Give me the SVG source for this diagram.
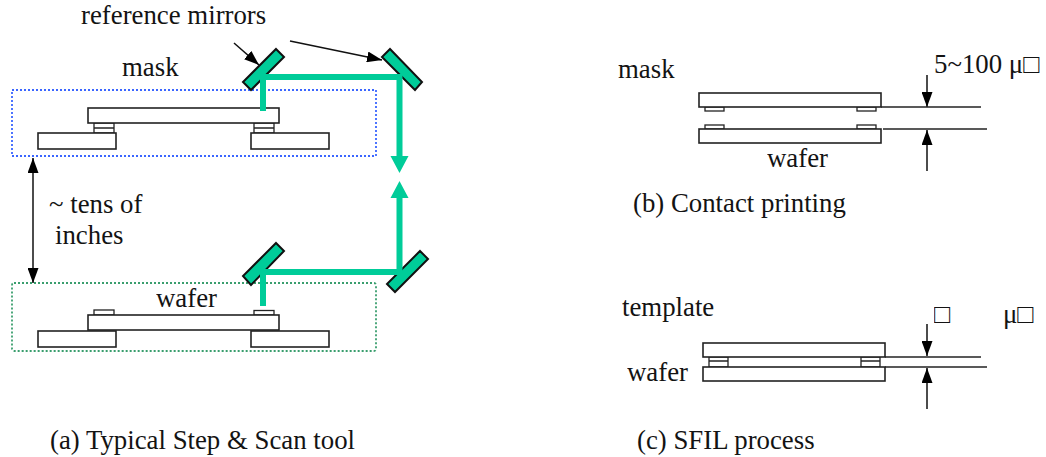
<svg xmlns="http://www.w3.org/2000/svg" width="1046" height="457" viewBox="0 0 1046 457">
<defs>
<marker id="ah" markerUnits="userSpaceOnUse" markerWidth="15" markerHeight="11" refX="15" refY="5.5" orient="auto" viewBox="0 0 15 11"><path d="M0 0L15 5.5L0 11Z" fill="#000"/></marker>
<marker id="ahs" markerUnits="userSpaceOnUse" markerWidth="15" markerHeight="11" refX="0" refY="5.5" orient="auto" viewBox="0 0 15 11"><path d="M15 0L0 5.5L15 11Z" fill="#000"/></marker>
</defs>
<style>
text{font-family:"Liberation Serif","Times New Roman",serif;font-size:26.8px;fill:#111;opacity:.99}
.p{fill:#fff;stroke:#222;stroke-width:1.6}
.t{fill:#fff;stroke:#222;stroke-width:1.3}
.m{fill:#00cc99;stroke:#111;stroke-width:2}
.b{fill:none;stroke:#00cc99;stroke-width:6}
.h{fill:#00cc99}
.l{fill:none;stroke:#222;stroke-width:1.5}
.a{fill:none;stroke:#111;stroke-width:1.5}
</style>
<rect width="1046" height="457" fill="#fff"/>
<g id="panel-a-mask">
<rect x="12" y="90" width="364" height="66" fill="none" stroke="#3b66ff" stroke-width="1.8" stroke-dasharray="2 2"/>
<rect class="t" x="94" y="123" width="20" height="10"/><line class="l" x1="94" y1="128" x2="114" y2="128"/>
<rect class="t" x="254" y="123" width="20" height="10"/><line class="l" x1="254" y1="128" x2="274" y2="128"/>
<rect class="p" x="88" y="108" width="191" height="15"/>
<rect class="p" x="38" y="133" width="78" height="16"/>
<rect class="p" x="251" y="133" width="78" height="16"/>
<text x="122" y="76">mask</text>
</g>
<g id="panel-a-wafer">
<rect x="12" y="283" width="364" height="68" rx="2" fill="none" stroke="#3a9e6e" stroke-width="1.8" stroke-dasharray="2 2"/>
<rect class="t" x="94" y="310" width="20" height="5"/>
<rect class="t" x="254" y="310.500" width="20" height="4.500"/>
<rect class="p" x="88" y="315" width="191" height="15"/>
<rect class="p" x="38" y="331" width="78" height="16"/>
<rect class="p" x="251" y="331" width="78" height="16"/>
<text x="156" y="307">wafer</text>
</g>
<g id="mirrors">
<polygon class="m" points="276,49 284,57 251,90 243,82"/>
<polygon class="m" points="390,49 382,57 415,90 422,82"/>
<polygon class="m" points="276,243 284,251 251,285 243,276"/>
<polygon class="m" points="420,251 428,259 395,292 387,284"/>
</g>
<g id="connectors">
<path class="b" d="M263 111V77H399.500V157"/>
<polygon class="h" points="390.500,156 408.500,156 399.500,173"/>
<path class="b" d="M263 306V272H399.500V197"/>
<polygon class="h" points="390.500,198 408.500,198 399.500,181"/>
<line class="a" x1="33" y1="158" x2="33" y2="283" marker-start="url(#ahs)" marker-end="url(#ah)"/>
<line class="a" x1="234" y1="43" x2="259" y2="65" marker-end="url(#ah)"/>
<line class="a" x1="290" y1="41" x2="382" y2="60" marker-end="url(#ah)"/>
<line class="a" x1="927" y1="75" x2="927" y2="107" marker-end="url(#ah)"/>
<line class="a" x1="927" y1="171" x2="927" y2="130" marker-end="url(#ah)"/>
<line class="a" x1="927" y1="324" x2="927" y2="356" marker-end="url(#ah)"/>
<line class="a" x1="927" y1="409" x2="927" y2="368" marker-end="url(#ah)"/>
<line class="l" x1="881" y1="107" x2="981" y2="107"/>
<line class="l" x1="883" y1="129" x2="987" y2="129"/>
<line class="l" x1="885" y1="357" x2="981" y2="357"/>
<line class="l" x1="885" y1="367" x2="987" y2="367"/>
</g>
<g id="panel-a-labels">
<text x="81" y="24">reference mirrors</text>
<text x="49" y="213">~ tens of</text>
<text x="55" y="244">inches</text>
<text x="50" y="449">(a) Typical Step &amp; Scan tool</text>
</g>
<g id="panel-b">
<rect class="t" x="705" y="107" width="19" height="4"/>
<rect class="t" x="857" y="107" width="19" height="4"/>
<rect class="p" x="699" y="93" width="182" height="14"/>
<rect class="t" x="705" y="125" width="19" height="4"/>
<rect class="t" x="857" y="125" width="19" height="4"/>
<rect class="p" x="699" y="129" width="182" height="14"/>
<text x="618" y="78">mask</text>
<text x="767" y="167">wafer</text>
<text x="934" y="73">5~100 μ□</text>
<text x="633" y="212">(b) Contact printing</text>
</g>
<g id="panel-c">
<rect class="t" x="709" y="357" width="19" height="10"/><line class="l" x1="709" y1="361" x2="728" y2="361"/>
<rect class="t" x="861" y="357" width="19" height="10"/><line class="l" x1="861" y1="361" x2="880" y2="361"/>
<rect class="p" x="703" y="343" width="182" height="14"/>
<rect class="p" x="703" y="367" width="182" height="14"/>
<text x="622" y="316">template</text>
<text x="627" y="381">wafer</text>
<text x="934" y="323">□</text>
<text x="1003" y="323">μ□</text>
<text x="637" y="449">(c) SFIL process</text>
</g>
</svg>
